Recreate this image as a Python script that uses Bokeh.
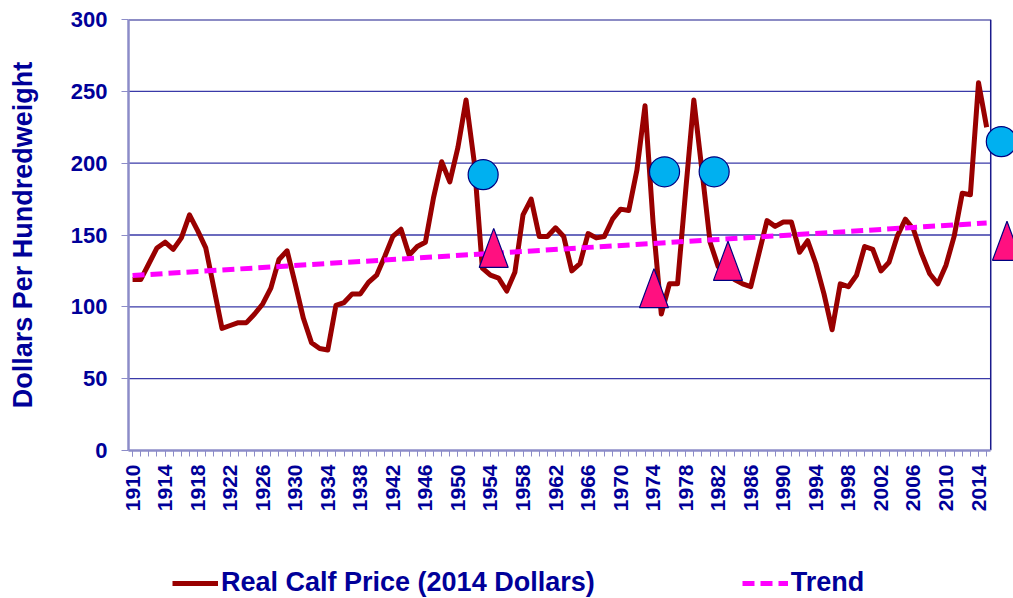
import numpy as np
from bokeh.plotting import figure
from bokeh.layouts import column
from bokeh.models import Range1d, FixedTicker, Legend, LegendItem
from bokeh.embed import file_html
from bokeh.resources import INLINE

# ---------------- data ----------------
years = list(range(1910, 2016))
price = [119, 119, 130, 141, 145, 140, 148, 164, 153, 141,
         113, 85, 87, 89, 89, 95, 102, 113, 133, 139,
         116, 92, 75, 71, 70, 101, 103, 109, 109, 117,
         122, 135, 149, 154, 136, 142, 145, 176, 201, 187,
         211, 244, 201, 127, 122, 120, 111, 124, 164, 175,
         149, 149, 155, 149, 125, 130, 151, 148, 149, 161,
         168, 167, 195, 240, 158, 95, 116, 116, 181, 244,
         195, 145, 128, 123, 119, 116, 114, 137, 160, 156,
         159, 159, 138, 146, 130, 109, 84, 116, 114, 122,
         142, 140, 125, 131, 149, 161, 154, 137, 123, 116,
         129, 149, 179, 178, 256, 225]
trend_years = [1910, 2015]
trend_values = [121.8, 158.4]
circle_x = [1953.1, 1975.4, 1981.5, 2016.8]
circle_y = [192, 194, 194, 215]
triangle_x = [1954.4, 1974.1, 1983.2, 2017.5]
triangle_y = [141, 113, 132, 146]
y_ticks = [0, 50, 100, 150, 200, 250, 300]
x_label_years = list(range(1910, 2015, 4))
x_tick_labels = [str(y) for y in x_label_years]
series_names = ["Real Calf Price (2014 Dollars)", "Trend"]

# ---------------- style ----------------
NAVY = "#000099"
AXIS = "#8c8cc8"
GRID = "#3a3aa8"
FONT = "Liberation Sans"
PRICE_COLOR = "#990000"
TREND_COLOR = "#FF00FF"
X0, X1 = years[0] - 0.5, years[-1] + 0.5
W = 1013

p = figure(width=W, height=568, output_backend="svg", toolbar_location=None,
           x_range=Range1d(X0, 2018.3), y_range=Range1d(y_ticks[0], y_ticks[-1]),
           min_border_left=128, min_border_right=0, min_border_top=19,
           min_border_bottom=118)
p.outline_line_color = None
p.grid.visible = False

# grid lines (limited to the category extent)
inner = y_ticks[1:-1]
p.segment(x0=[X0] * len(inner), y0=inner, x1=[X1] * len(inner), y1=inner,
          line_color=GRID, line_width=1.3)
p.segment(x0=[X0], y0=[y_ticks[-1]], x1=[X1], y1=[y_ticks[-1]],
          line_color="#1a1a8c", line_width=2)
p.segment(x0=[X1], y0=[y_ticks[0]], x1=[X1], y1=[y_ticks[-1]],
          line_color="#1a1a8c", line_width=1.5)

p.line(years, price, line_color=PRICE_COLOR, line_width=5, line_join="round")
p.line(trend_years, trend_values, line_color=TREND_COLOR, line_width=5,
       line_dash="12 6")

p.scatter(circle_x, circle_y, marker="circle", size=30, fill_color="#00B0F0",
          line_color="#000080", line_width=1.2)

hw, hh = 1.78, 13.6
tri_xs = [[x - hw, x, x + hw] for x in triangle_x]
tri_ys = [[y - hh, y + hh, y - hh] for y in triangle_y]
p.patches(tri_xs, tri_ys, fill_color="#FF1080", line_color="#000080", line_width=1.2)

# x axis
xa = p.xaxis[0]
xa.ticker = FixedTicker(ticks=x_label_years, minor_ticks=years)
xa.major_label_overrides = {y: s for y, s in zip(x_label_years, x_tick_labels)}
xa.major_label_orientation = np.pi / 2
xa.bounds = (X0, X1)
xa.axis_line_color = AXIS
xa.axis_line_width = 2.5
xa.major_tick_line_color = AXIS
xa.minor_tick_line_color = AXIS
xa.major_tick_out = 6
xa.major_tick_in = 0
xa.minor_tick_out = 6
xa.minor_tick_in = 0
xa.major_label_standoff = 8
xa.major_label_text_font = FONT
xa.major_label_text_font_size = "21px"
xa.major_label_text_font_style = "bold"
xa.major_label_text_color = NAVY

# y axis
ya = p.yaxis[0]
ya.ticker = FixedTicker(ticks=y_ticks)
ya.axis_line_color = AXIS
ya.axis_line_width = 2.5
ya.major_tick_line_color = AXIS
ya.major_tick_out = 7
ya.major_tick_in = 0
ya.minor_tick_line_color = None
ya.major_label_standoff = 14
ya.major_label_text_font = FONT
ya.major_label_text_font_size = "22px"
ya.major_label_text_font_style = "bold"
ya.major_label_text_color = NAVY
ya.axis_label = "Dollars Per Hundredweight"
ya.axis_label_text_font = FONT
ya.axis_label_text_font_size = "27px"
ya.axis_label_text_font_style = "bold"
ya.axis_label_text_color = NAVY
ya.axis_label_standoff = 30

# ---------------- legend strip ----------------
lg = figure(width=W, height=30, output_backend="svg", toolbar_location=None,
            x_range=Range1d(0, 1), y_range=Range1d(0, 1),
            x_axis_type=None, y_axis_type=None,
            min_border_left=0, min_border_right=0, min_border_top=0,
            min_border_bottom=0)
lg.outline_line_color = None
lg.grid.visible = False
# off-range stand-ins, only used for the legend swatches
r1 = lg.line(x=[-5, -4], y=[-5, -4], line_color=PRICE_COLOR, line_width=5)
r2 = lg.line(x=[-5, -4], y=[-5, -4], line_color=TREND_COLOR, line_width=5,
             line_dash="12 6")
legend = Legend(items=[LegendItem(label=series_names[0], renderers=[r1]),
                       LegendItem(label=series_names[1], renderers=[r2])],
                location=(44, 0), orientation="horizontal",
                glyph_width=46, glyph_height=30, label_height=30,
                label_standoff=3, spacing=147, padding=0, margin=0,
                border_line_color=None, background_fill_alpha=0,
                label_text_font=FONT, label_text_font_size="27px",
                label_text_font_style="bold", label_text_color=NAVY)
lg.add_layout(legend)

layout = column(p, lg, spacing=0)
open("out.html", "w").write(file_html(layout, INLINE))
